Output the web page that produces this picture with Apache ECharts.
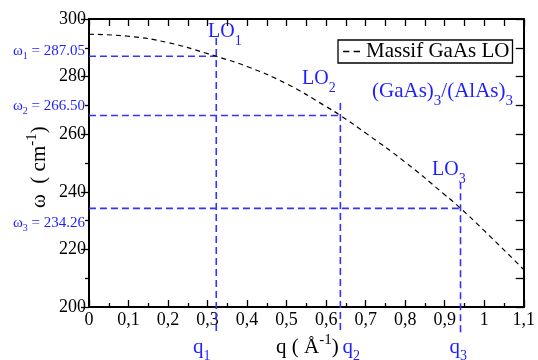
<!DOCTYPE html>
<html>
<head>
<meta charset="utf-8">
<script src="https://cdn.jsdelivr.net/npm/echarts@6/dist/echarts.min.js"></script>
<style>html,body{margin:0;padding:0;background:#fff}#c{width:538px;height:360px}</style>
</head>
<body>
<div id="c"></div>
<script>
// ---- data ----
const qBulk = [0, 0.1, 0.2, 0.3, 0.322, 0.4, 0.5, 0.6, 0.636, 0.7, 0.8, 0.9, 0.94, 1.0, 1.1];
const wBulk = [294.7, 294.0, 291.8, 288.0, 287.05, 283.5, 277.5, 269.6, 266.5, 260.4, 250.3, 239.0, 234.26, 226.5, 213.0];
const qPoints = [0.322, 0.636, 0.940];
const wPoints = [287.05, 266.50, 234.26];
const wLabels = ['287.05', '266.50', '234.26'];
const guideTops = [293.4, 270.8, 243.3];
const guideBottom = 190.6;
const guideLeft = -0.028;
const seriesName = 'Massif GaAs LO';

// ---- style ----
const FONT = '"Liberation Serif", "Times New Roman", serif';
const BLUE_TXT = '#1e1eff';
const BLUE_LN = '#3333ff';
const mctx = document.createElement('canvas').getContext('2d');
function tw(s, fs) { mctx.font = fs + 'px ' + FONT; return mctx.measureText(s).width; }
// parts: [text, fontSize, baselineShift]
function rich(parts, x, y, opt) {
  const widths = parts.map(p => tw(p[0], p[1]));
  const total = widths.reduce((a, b) => a + b, 0);
  let x0 = opt.align === 'right' ? -total : opt.align === 'center' ? -total / 2 : 0;
  const children = [];
  parts.forEach((p, i) => {
    children.push({
      type: 'text', x: x0, y: (p[2] || 0) - 0.34 * p[1], silent: true,
      style: { text: p[0], fontSize: p[1], fontFamily: FONT, fill: opt.color || '#000', align: 'left', verticalAlign: 'middle' }
    });
    x0 += widths[i];
  });
  return { type: 'group', x: x, y: y, rotation: opt.rot || 0, children: children, silent: true };
}

const series = [{
  name: seriesName, type: 'line', data: qBulk.map((q, i) => [q, wBulk[i]]),
  symbol: 'none', showSymbol: false, smooth: true, z: 5,
  itemStyle: { color: '#000' },
  lineStyle: { color: '#000', width: 1.2, type: [5, 4] }
}];
qPoints.forEach((q, i) => {
  series.push({
    name: 'h' + i, type: 'line', clip: false, symbol: 'none', silent: true, z: 3,
    data: [[guideLeft, wPoints[i]], [q, wPoints[i]]],
    lineStyle: { color: BLUE_LN, width: 1.6, type: [7, 4] }
  });
  series.push({
    name: 'v' + i, type: 'line', clip: false, symbol: 'none', silent: true, z: 3,
    data: [[q, guideTops[i]], [q, guideBottom]],
    lineStyle: { color: BLUE_LN, width: 1.6, type: [7, 4] }
  });
});

const axisLine = { show: true, onZero: false, lineStyle: { color: '#000', width: 2 } };
const fmt = v => String(+(+v).toFixed(2)).replace('.', ',');

const graphics = [];
const subs = ['1', '2', '3'];
wLabels.forEach((w, i) => {
  const ys = [56, 111, 228];
  graphics.push(rich([['ω', 15], [subs[i], 10, 4], [' = ' + w, 15]], 85, ys[i], { align: 'right', color: BLUE_TXT }));
});
graphics.push(rich([['LO', 20], ['1', 14, 7]], 208, 39, { color: BLUE_TXT }));
graphics.push(rich([['LO', 20], ['2', 14, 7]], 302, 86, { color: BLUE_TXT }));
graphics.push(rich([['LO', 20], ['3', 14, 7]], 432, 177, { color: BLUE_TXT }));
graphics.push(rich([['(GaAs)', 21], ['3', 15, 8], ['/(AlAs)', 21], ['3', 15, 8]], 372, 98.5, { color: BLUE_TXT }));
graphics.push(rich([['q', 21], ['1', 14, 6]], 193, 355, { color: BLUE_TXT }));
graphics.push(rich([['q', 21], ['2', 14, 6]], 342.5, 355, { color: BLUE_TXT }));
graphics.push(rich([['q', 21], ['3', 14, 6]], 449.5, 355, { color: BLUE_TXT }));
graphics.push(rich([['q ( Å', 21], ['-1', 15, -10], [')', 21]], 276, 355, { color: '#000' }));
graphics.push(rich([['ω  ( cm', 21], ['-1', 15, -10], [')', 21]], 47, 208, { color: '#000', rot: Math.PI / 2 }));

const option = {
  animation: false,
  backgroundColor: '#fff',
  grid: { left: 89, right: 12, top: 19, bottom: 53, containLabel: false },
  legend: {
    data: [{ name: seriesName, icon: 'path://M0,0 L6,0 L6,1.2 L0,1.2 Z M10,0 L16,0 L16,1.2 L10,1.2 Z' }],
    left: 338, top: 40, orient: 'horizontal',
    padding: [1, 3, 1, 5], itemWidth: 17, itemHeight: 1.3, itemGap: 0,
    borderColor: '#000', borderWidth: 1.3, borderRadius: 0, backgroundColor: '#fff',
    textStyle: { fontFamily: FONT, fontSize: 21, color: '#000', lineHeight: 21, padding: [0, 0, 0, 1] },
    itemStyle: { color: '#000', borderWidth: 0 },
    selectedMode: false
  },
  xAxis: [{
    type: 'value', min: 0, max: 1.1, interval: 0.1, position: 'bottom',
    axisLine: axisLine,
    axisTick: { show: true, inside: true, length: 7, lineStyle: { color: '#000', width: 1.3 } },
    minorTick: { show: true, splitNumber: 2, length: 4, lineStyle: { color: '#000', width: 1.3 } },
    axisLabel: { formatter: fmt, fontFamily: FONT, fontSize: 18, color: '#000', margin: 4, showMinLabel: true, showMaxLabel: true },
    splitLine: { show: false }
  }, {
    type: 'value', min: 0, max: 1.1, interval: 0.05, position: 'top',
    axisLine: axisLine,
    axisTick: { show: true, inside: true, length: 7, lineStyle: { color: '#000', width: 1.3 } },
    axisLabel: { show: false }, splitLine: { show: false }
  }],
  yAxis: [{
    type: 'value', min: 200, max: 300, interval: 20, position: 'left',
    axisLine: axisLine,
    axisTick: { show: true, inside: false, length: 8, lineStyle: { color: '#000', width: 1.3 } },
    minorTick: { show: true, splitNumber: 2, length: 4, lineStyle: { color: '#000', width: 1.3 } },
    axisLabel: { fontFamily: FONT, fontSize: 18, color: '#000', margin: 3 },
    splitLine: { show: false }
  }, {
    type: 'value', min: 200, max: 300, interval: 10, position: 'right',
    axisLine: axisLine,
    axisTick: { show: true, inside: true, length: 8, lineStyle: { color: '#000', width: 1.3 } },
    axisLabel: { show: false }, splitLine: { show: false }
  }],
  series: series,
  graphic: graphics
};
const chart = echarts.init(document.getElementById('c'), null, { renderer: 'canvas' });
chart.setOption(option);
</script>
</body>
</html>
